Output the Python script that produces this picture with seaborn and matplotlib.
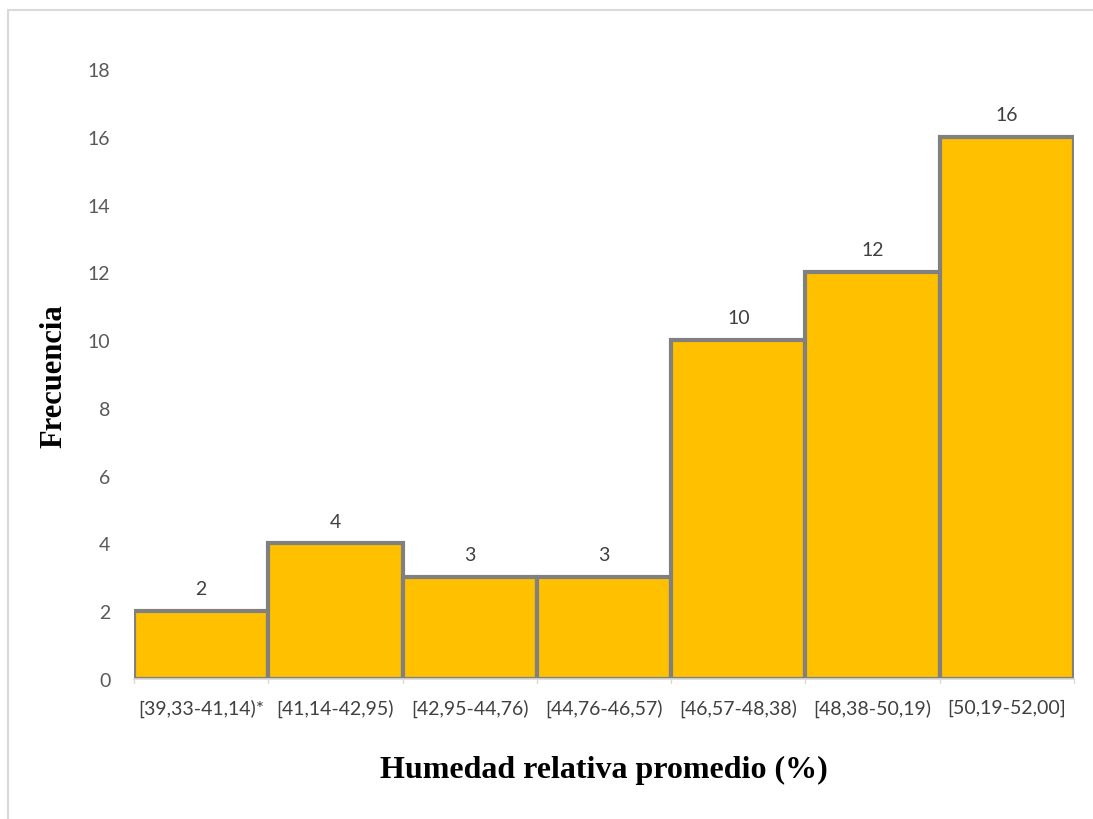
import matplotlib
matplotlib.use("Agg")
import matplotlib.pyplot as plt
from matplotlib.lines import Line2D
import seaborn as sns

# Frequency table: relative humidity classes
intervalos = ["[39,33-41,14)*", "[41,14-42,95)", "[42,95-44,76)", "[44,76-46,57)",
              "[46,57-48,38)", "[48,38-50,19)", "[50,19-52,00]"]
frecuencia = [2, 4, 3, 3, 10, 12, 16]
y_ticks = [0, 2, 4, 6, 8, 10, 12, 14, 16, 18]

sns.set_theme(style="white")
plt.rcParams["font.family"] = ["Lato", "DejaVu Sans"]

W, H = 1093, 820
fig = plt.figure(figsize=(W / 100, H / 100), dpi=100)
ax = fig.add_axes([134 / W, 1 - 680 / H, (1074 - 134) / W, (680 - 70) / H])

sns.barplot(x=intervalos, y=frecuencia, color="#FFC000", saturation=1,
            edgecolor="#808080", linewidth=3.0, width=1.0, ax=ax)

ax.set_xlim(-0.5, len(intervalos) - 0.5)
ax.set_ylim(0, 18)
ax.set_yticks(y_ticks)
ax.tick_params(axis="y", length=0, labelsize=14, labelcolor="#595959", pad=17)
ax.tick_params(axis="x", length=0, labelsize=14, labelcolor="#404040", pad=14)

for side in ["top", "right", "left"]:
    ax.spines[side].set_visible(False)
ax.spines["bottom"].set_color("#D9D9D9")
ax.spines["bottom"].set_linewidth(1.2)

# small boundary ticks between classes
for b in range(len(intervalos) + 1):
    ax.plot([b - 0.5, b - 0.5], [0, -0.12], color="#D9D9D9", lw=1, clip_on=False)

ax.bar_label(ax.containers[0], labels=[str(v) for v in frecuencia], padding=10,
             fontsize=14, color="#404040")

ax.set_ylabel("Frecuencia", family="Liberation Serif", fontweight="bold",
              fontsize=22, color="black")
ax.yaxis.set_label_coords(-0.085, 0.498)
ax.set_xlabel("Humedad relativa promedio (%)", family="Liberation Serif",
              fontweight="bold", fontsize=23, color="black")
ax.xaxis.set_label_coords(0.5, -0.148)
ax.xaxis.label.set_va("center")
ax.yaxis.label.set_va("center")

# chart area frame
fig.add_artist(Line2D([8 / W, 8 / W], [0, 1 - 11 / H], color="#D9D9D9", lw=1.5))
fig.add_artist(Line2D([8 / W, 1], [1 - 11 / H, 1 - 11 / H], color="#D9D9D9", lw=1.5))

fig.savefig("out.png", dpi=100, facecolor="white")
